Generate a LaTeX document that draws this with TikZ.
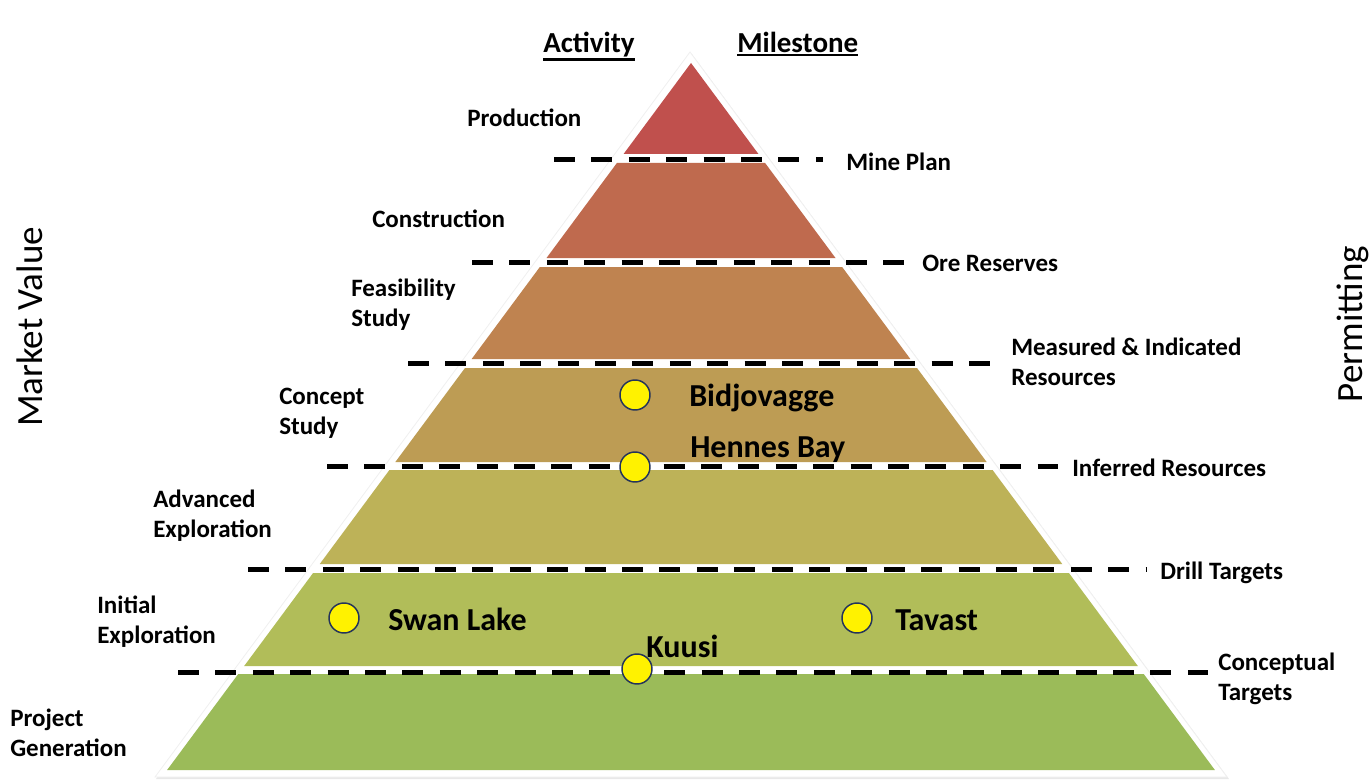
\documentclass[tikz,border=0pt]{standalone}
\usepackage{fontspec}
\setmainfont{Carlito}
\begin{document}
\definecolor{Lone}{RGB}{192,80,77}
\definecolor{Ltwo}{RGB}{191,106,78}
\definecolor{Lthree}{RGB}{191,131,80}
\definecolor{Lfour}{RGB}{189,156,84}
\definecolor{Lfive}{RGB}{189,178,88}
\definecolor{Lsix}{RGB}{177,189,89}
\definecolor{Lseven}{RGB}{155,187,89}
\definecolor{navy}{RGB}{36,52,90}
\begin{tikzpicture}[x=0.75pt,y=-0.75pt,
  lbl/.style={font=\bfseries\fontsize{18.75}{22.5}\selectfont, inner sep=0, anchor=base west, align=left},
  big/.style={font=\bfseries\fontsize{24}{28}\selectfont, inner sep=0, anchor=base west},
  hdr/.style={font=\bfseries\fontsize{21.75}{26}\selectfont, inner sep=0, anchor=base west},
  side/.style={font=\fontsize{27.75}{32}\selectfont, inner sep=0, anchor=base, rotate=90},
  ms/.style={black, line width=3.75pt, dash pattern=on 15.75pt off 12.3pt},
  dot/.style={circle, fill=yellow, draw=navy, line width=1.1pt, minimum size=22.5pt, inner sep=0}]
\useasboundingbox (0,0) rectangle (1371,781);
% outer white pyramid with faint shadow
\fill[gray!18] (691.5,53.5) -- (1229,779) -- (156,779) -- cycle;
\fill[white, draw=gray!12, line width=0.6pt] (690,52) -- (1227,777) -- (155,777) -- cycle;
% layers
\fill[Lone] (691,63) -- ({691+0.741*(154-63)},154) -- ({691-0.741*(154-63)},154) -- cycle;
\foreach \t/\b/\c in {163/258/Ltwo, 267/359/Lthree, 368/462/Lfour, 470/564/Lfive, 573/666/Lsix, 674/770/Lseven}{
  \fill[\c] ({691-0.741*(\t-63)},\t) -- ({691+0.741*(\t-63)},\t) -- ({691+0.741*(\b-63)},\b) -- ({691-0.741*(\b-63)},\b) -- cycle;
}
% milestone dashed lines
\draw[ms] (554,159.5) -- (823,159.5);
\draw[ms] (472,262) -- (904,262);
\draw[ms] (408,363.5) -- (990,363.5);
\draw[ms] (327,466) -- (1058,466);
\draw[ms] (248,569.5) -- (1147,569.5);
\draw[ms] (178,672) -- (1208,672);
% project dots
\node[dot] (dBid) at (635,395) {};
\node[dot] (dHen) at (635,467) {};
\node[dot] (dSwan) at (344,618) {};
\node[dot] (dTav) at (857,618) {};
\node[dot] (dKuu) at (637,669) {};
% headers
\node[hdr] (act) at (543,53) {Activity};
\node[hdr] (mil) at (737,53) {Milestone};
\draw[line width=1.7pt] ([yshift=-1.2pt]act.south west) -- ([yshift=-1.2pt]act.south east);
\draw[line width=1.7pt] ([yshift=-1.2pt]mil.south west) -- ([yshift=-1.2pt]mil.south east);
% activity labels (multi-line nodes: base = last line)
\node[lbl] (prod) at (467,127) {Production};
\node[lbl] (cons) at (372,228) {Construction};
\node[lbl] (feas) at (351,326) {Feasibility\\Study};
\node[lbl] (conc) at (279,434) {Concept\\Study};
\node[lbl] (adv) at (153,537) {Advanced\\Exploration};
\node[lbl] (ini) at (97,643) {Initial\\Exploration};
\node[lbl] (proj) at (10,756) {Project\\Generation};
% milestone labels
\node[lbl] (mine) at (846,171) {Mine Plan};
\node[lbl] (ore) at (922,272) {Ore Reserves};
\node[lbl] (meas) at (1011,385) {Measured \& Indicated\\Resources};
\node[lbl] (inf) at (1072,476) {Inferred Resources};
\node[lbl] (drill) at (1160,579) {Drill Targets};
\node[lbl] (concp) at (1218,700) {Conceptual\\Targets};
% project names
\node[big] (bid) at (689,406) {Bidjovagge};
\node[big] (hen) at (690,457) {Hennes Bay};
\node[big] (swan) at (388,630) {Swan Lake};
\node[big] (tav) at (895,630) {Tavast};
\node[big] (kuu) at (646,657) {Kuusi};
% side labels
\node[side] (mv) at (42,327) {Market Value};
\node[side] (perm) at (1362,324) {Permitting};
\end{tikzpicture}
\end{document}
